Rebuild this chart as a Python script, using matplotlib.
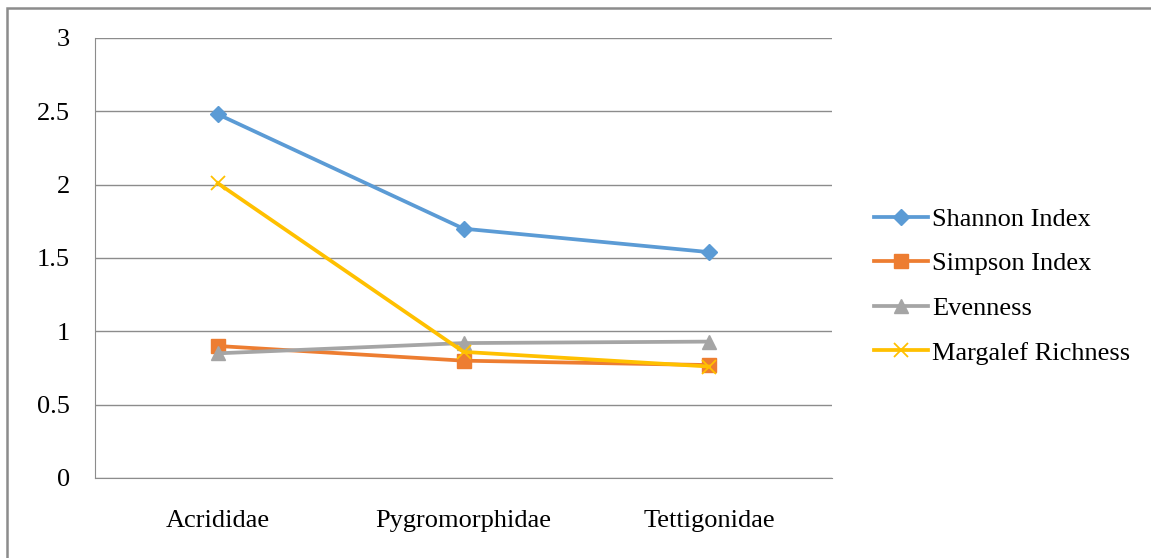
import matplotlib
matplotlib.use("Agg")
import matplotlib.pyplot as plt
from matplotlib.patches import Rectangle

families = ["Acrididae", "Pygromorphidae", "Tettigonidae"]
shannon = [2.48, 1.70, 1.54]
simpson = [0.90, 0.80, 0.77]
evenness = [0.85, 0.92, 0.93]
margalef = [2.01, 0.86, 0.76]

yticks = [0, 0.5, 1, 1.5, 2, 2.5, 3]
ytick_labels = ["0", "0.5", "1", "1.5", "2", "2.5", "3"]

plt.rcParams["font.family"] = ["Liberation Serif", "DejaVu Serif"]

W, H = 1151, 558
fig = plt.figure(figsize=(W / 100, H / 100), dpi=100)
ax = fig.add_axes([95 / W, (H - 478) / H, 737 / W, 440 / H])

x = range(len(families))
ax.plot(x, shannon, color="#5B9BD5", lw=2.7, marker="D", ms=8, label="Shannon Index")
ax.plot(x, simpson, color="#ED7D31", lw=2.7, marker="s", ms=9.5, label="Simpson Index")
ax.plot(x, evenness, color="#A5A5A5", lw=2.7, marker="^", ms=9.5, label="Evenness")
ax.plot(x, margalef, color="#FFC000", lw=2.7, marker="x", ms=10, mew=1.3, label="Margalef Richness")

ax.set_xlim(-0.5, 2.5)
ax.set_ylim(0, 3)
ax.set_xticks(list(x))
ax.set_xticklabels(families)
ax.set_yticks(yticks)
ax.set_yticklabels(ytick_labels)
ax.tick_params(axis="both", length=0, labelsize=19)
ax.tick_params(axis="y", pad=18)
ax.tick_params(axis="x", pad=23)
ax.grid(axis="y", color="#8C8C8C", lw=1)
ax.set_axisbelow(True)
for side in ["top", "right"]:
    ax.spines[side].set_visible(False)
ax.spines["left"].set_color("#8C8C8C")
ax.spines["bottom"].set_color("#8C8C8C")

fig.legend(loc="center left", bbox_to_anchor=(850 / W, 1 - 286 / H), frameon=False,
           fontsize=19, handlelength=2.05, handletextpad=0.15, labelspacing=0.8)

# outer chart border
fig.patches.append(Rectangle((7.5 / W, -0.1), 1.2, 1 - 8.5 / H + 0.1, transform=fig.transFigure,
                             fill=False, edgecolor="#8C8C8C", lw=1.8))

fig.savefig("out.png", dpi=100)
